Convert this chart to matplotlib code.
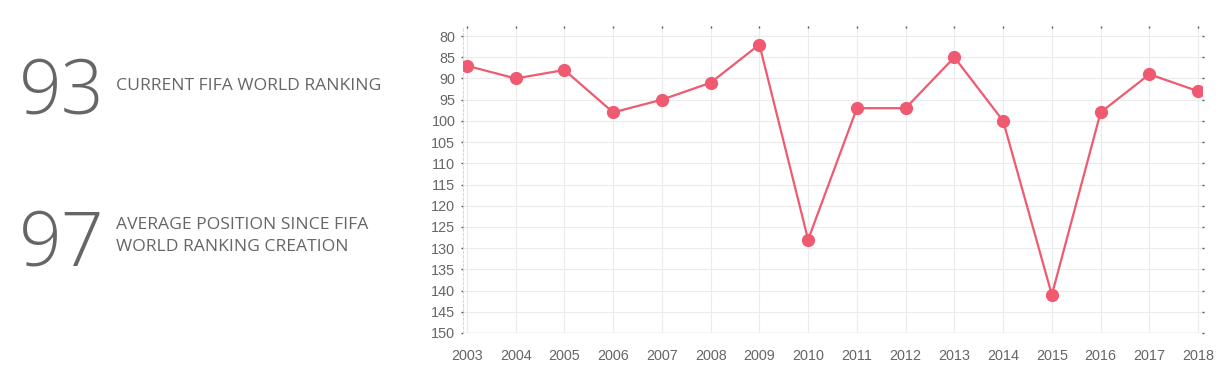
import matplotlib
matplotlib.use("Agg")
import matplotlib.pyplot as plt

years = list(range(2003, 2019))
ranking = [87, 90, 88, 98, 95, 91, 82, 128, 97, 97, 85, 100, 141, 98, 89, 93]
y_ticks = list(range(80, 151, 5))

current_rank = "93"
current_label = "CURRENT FIFA WORLD RANKING"
average_rank = "97"
average_label = "AVERAGE POSITION SINCE FIFA\nWORLD RANKING CREATION"

line_color = "#ef5a70"
text_gray = "#666666"

fig = plt.figure(figsize=(12.23, 3.79), dpi=100)

# left-side summary numbers
fig.text(19 / 1223, 1 - 113 / 379, current_rank, fontsize=54, color=text_gray,
         family="Open Sans", weight="light", va="baseline")
fig.text(116 / 1223, 1 - 86 / 379, current_label, fontsize=12.6, color=text_gray,
         family="Open Sans", va="center")
fig.text(19 / 1223, 1 - 265 / 379, average_rank, fontsize=54, color=text_gray,
         family="Open Sans", weight="light", va="baseline")
fig.text(116 / 1223, 1 - 236 / 379, average_label, fontsize=12.6, color=text_gray,
         family="Open Sans", va="center", linespacing=1.55)

ax = fig.add_axes([463 / 1223, 1 - 333 / 379, (1202 - 463) / 1223, (333 - 28) / 379])
ax.plot(years, ranking, color=line_color, linewidth=1.6, marker="o",
        markersize=8.5, zorder=3)

ax.set_xlim(2002.92, 2018.08)
ax.set_ylim(150, 78.1)
ax.set_xticks(years)
ax.set_yticks(y_ticks)
ax.grid(True, color="#ebebeb", linewidth=0.8)
ax.axhline(150, color="#d5d5d5", linewidth=1, zorder=1)

for side in ["top", "right", "bottom"]:
    ax.spines[side].set_visible(False)
ax.spines["left"].set_color("#f3c9d0")
ax.spines["left"].set_linestyle((0, (2, 2)))
ax.spines["left"].set_linewidth(0.8)

ax.tick_params(axis="both", labelsize=10.4, labelcolor=text_gray, color="#555555",
               length=1.5, width=1.0, pad=4)
ax.tick_params(axis="x", top=True, bottom=False, pad=10)
ax.tick_params(axis="y", right=True)
for lbl in ax.get_xticklabels() + ax.get_yticklabels():
    lbl.set_family("Liberation Sans")

fig.savefig("out.png", dpi=100)
